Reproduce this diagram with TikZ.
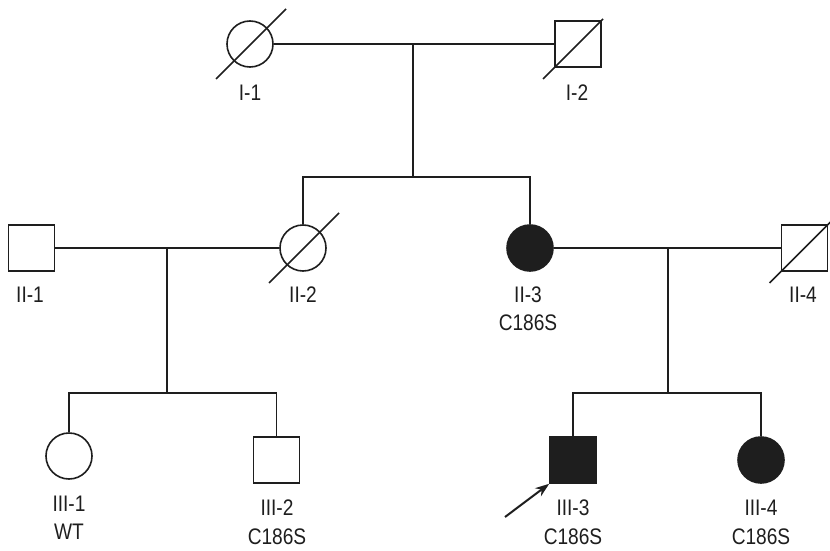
\documentclass[tikz,border=0pt]{standalone}
\usepackage{fontspec}
\setmainfont{Liberation Sans}[FakeStretch=0.85]
\usetikzlibrary{arrows.meta}
\definecolor{ink}{HTML}{1E1E1E}
\tikzset{
  line/.style={draw=ink, line width=1.6pt},
  female/.style={circle, line, minimum size=46pt, inner sep=0pt},
  male/.style={rectangle, line, minimum size=46pt, inner sep=0pt},
  affected/.style={fill=ink},
  tag/.style={font=\fontsize{22.5}{24}\selectfont, text=ink, inner sep=0pt},
  deceased/.style={line}
}
\begin{document}
\begin{tikzpicture}[x=1pt, y=-1pt]
\useasboundingbox (0,0) rectangle (830,551);

% generation I
\node[female] (I1) at (250,44) {};
\node[male]   (I2) at (578,44) {};
\draw[deceased] ([shift={(-34,35)}]I1.center) -- ([shift={(36,-35)}]I1.center);
\draw[deceased] ([shift={(-35,35)}]I2.center) -- ([shift={(25,-25)}]I2.center);
\node[tag] (lI1) at (250,93) {I-1};
\node[tag] (lI2) at (577,93) {I-2};

% generation II
\node[male]             (II1) at (31.5,248) {};
\node[female]           (II2) at (303,248) {};
\node[female, affected] (II3) at (530,248) {};
\node[male]             (II4) at (804.5,248) {};
\draw[deceased] ([shift={(-34,35)}]II2.center) -- ([shift={(36,-35)}]II2.center);
\draw[deceased] ([shift={(-35,35)}]II4.center) -- ([shift={(26,-26)}]II4.center);
\node[tag] (lII1) at (30,295) {II-1};
\node[tag] (lII2) at (303,295) {II-2};
\node[tag] (lII3) at (528,295) {II-3};
\node[tag] (gII3) at (528,323) {C186S};
\node[tag] (lII4) at (803,295) {II-4};

% generation III
\node[female]           (III1) at (69,456) {};
\node[male]             (III2) at (276.5,460) {};
\node[male, affected]   (III3) at (573,460) {};
\node[female, affected] (III4) at (761,460) {};
\node[tag] (lIII1) at (69,504) {III-1};
\node[tag] (gIII1) at (69,532) {WT};
\node[tag] (lIII2) at (277,508) {III-2};
\node[tag] (gIII2) at (277,537) {C186S};
\node[tag] (lIII3) at (573,508) {III-3};
\node[tag] (gIII3) at (573,537) {C186S};
\node[tag] (lIII4) at (761,508) {III-4};
\node[tag] (gIII4) at (761,537) {C186S};

% couples, descent lines and sibships
\coordinate (m1) at (413,44);
\coordinate (s1) at (413,177);
\draw[line] (I1) -- (I2);
\draw[line] (m1) -- (s1);
\draw[line] (II2.north) |- (s1) -| (II3.north);

\coordinate (m2) at (167,248);
\coordinate (s2) at (167,393);
\draw[line] (II1) -- (II2);
\draw[line] (m2) -- (s2);
\draw[line] (III1.north) |- (s2) -| (III2.north);

\coordinate (m3) at (668,248);
\coordinate (s3) at (668,393);
\draw[line] (II3) -- (II4);
\draw[line] (m3) -- (s3);
\draw[line] (III3.north) |- (s3) -| (III4.north);

% proband arrow
\coordinate (pa) at (505,517);
\draw[line, line width=2pt, -{Stealth[length=14pt, width=10pt]}] (pa) -- (III3.south west);
\end{tikzpicture}
\end{document}
